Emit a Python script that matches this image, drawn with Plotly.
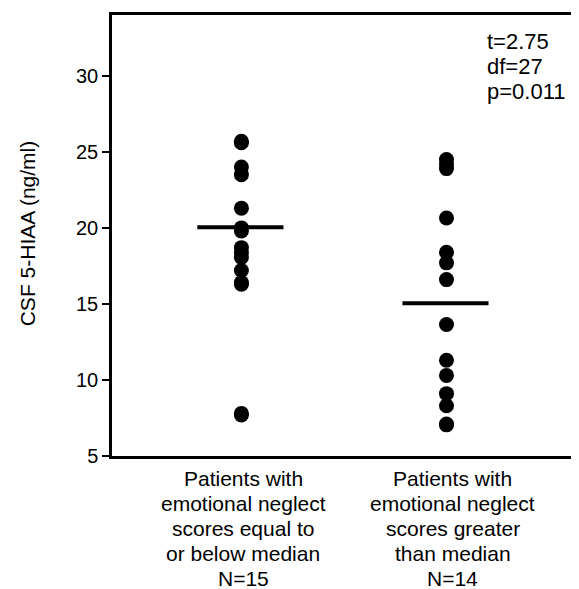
import plotly.graph_objects as go

# Data
group_labels = [
    ["Patients with", "emotional neglect", "scores equal to", "or below median", "N=15"],
    ["Patients with", "emotional neglect", "scores greater", "than median", "N=14"],
]
group_pos = [1, 2]
group1_values = [25.7, 25.6, 24.0, 23.5, 21.3, 20.0, 19.8, 18.7, 18.4, 18.05, 17.2, 16.4, 16.3, 7.8, 7.7]
group2_values = [24.5, 24.2, 23.9, 20.65, 18.4, 17.7, 16.6, 13.65, 11.3, 10.3, 9.1, 8.3, 7.1, 7.05]
group_means = [20.05, 15.05]
yticks = [5, 10, 15, 20, 25, 30]
stats_lines = ["t=2.75", "df=27", "p=0.011"]
y_title = "CSF 5-HIAA (ng/ml)"

FONT = "Liberation Sans, Arial, sans-serif"
fig = go.Figure()

for pos, vals in zip(group_pos, [group1_values, group2_values]):
    fig.add_trace(go.Scatter(
        x=[pos] * len(vals), y=vals, mode="markers",
        marker=dict(color="black", size=15, line=dict(width=0)),
        showlegend=False, hoverinfo="y",
    ))

half = 0.205
for pos, m in zip(group_pos, group_means):
    fig.add_trace(go.Scatter(
        x=[pos - half - 0.01, pos + half], y=[m, m], mode="lines",
        line=dict(color="black", width=4), showlegend=False, hoverinfo="y",
    ))

label_x = [1.01, 2.03]
for lx, lines in zip(label_x, group_labels):
    for i, txt in enumerate(lines):
        fig.add_annotation(
            x=lx, y=0, xref="x", yref="paper", text=txt, showarrow=False,
            xanchor="center", yanchor="middle", yshift=-(22 + 25 * i),
            font=dict(family=FONT, size=21, color="black"),
        )

for i, txt in enumerate(stats_lines):
    fig.add_annotation(
        x=0.811, y=1, xref="paper", yref="paper", text=txt, showarrow=False,
        xanchor="left", yanchor="middle", yshift=-(26 + 25 * i),
        font=dict(family=FONT, size=22, color="black"),
    )

fig.add_annotation(
    x=0, y=0.505, xref="paper", yref="paper", text=y_title, showarrow=False,
    textangle=-90, xanchor="center", yanchor="middle", xshift=-85,
    font=dict(family=FONT, size=21, color="black"),
)

fig.update_layout(
    width=571, height=581,
    margin=dict(l=104, r=5, t=4, b=133),
    paper_bgcolor="white", plot_bgcolor="white",
    font=dict(family=FONT, size=20, color="black"),
    xaxis=dict(range=[0.369, 2.612], showticklabels=False, ticks="",
               showgrid=False, zeroline=False, showline=True,
               linecolor="black", linewidth=2.5, mirror=True),
    yaxis=dict(range=[5, 34], tickvals=yticks, ticks="outside", ticklen=7,
               tickwidth=1.5, tickcolor="black", showgrid=False, zeroline=False,
               showline=True, linecolor="black", linewidth=2.5, mirror=True,
               tickfont=dict(family=FONT, size=20)),
)

fig.write_html("out.html")
